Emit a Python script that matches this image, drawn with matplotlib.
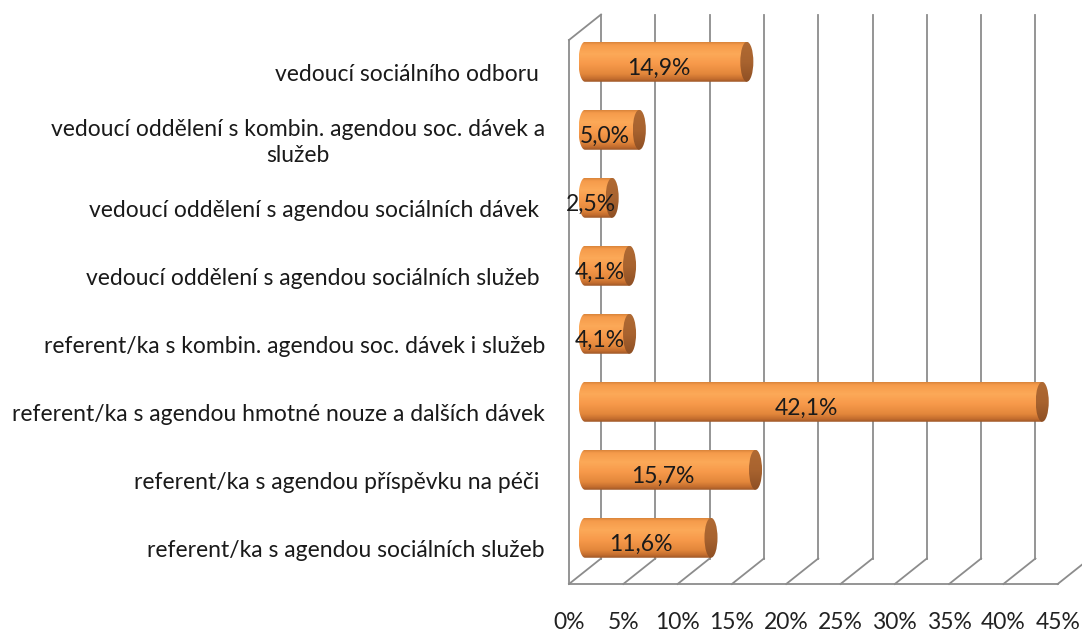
import numpy as np
import matplotlib
matplotlib.use("Agg")
import matplotlib.pyplot as plt
from matplotlib.path import Path
from matplotlib.patches import PathPatch, Ellipse
from matplotlib.colors import LinearSegmentedColormap

plt.rcParams['font.family'] = ['Lato', 'DejaVu Sans']

# Data (top to bottom as shown)
categories = [
    "vedoucí sociálního odboru ",
    "vedoucí oddělení s kombin. agendou soc. dávek a\nslužeb",
    "vedoucí oddělení s agendou sociálních dávek ",
    "vedoucí oddělení s agendou sociálních služeb ",
    "referent/ka s kombin. agendou soc. dávek i služeb",
    "referent/ka s agendou hmotné nouze a dalších dávek",
    "referent/ka s agendou příspěvku na péči ",
    "referent/ka s agendou sociálních služeb",
]
values = [14.9, 5.0, 2.5, 4.1, 4.1, 42.1, 15.7, 11.6]
ticks = [0, 5, 10, 15, 20, 25, 30, 35, 40, 45]

W, H = 1082, 632
fig = plt.figure(figsize=(W / 100, H / 100), dpi=100)
ax = fig.add_axes([569 / W, (H - 584) / H, (1057.7 - 569) / W, 544 / H])
ax.axis('off')

fs = 16.5

# 3d frame geometry (data units)
dx, dy = 2.95, 0.375
y_floor, y_top = -0.68, 7.32
grid_c = '#8C8C8C'
lw = 1.3

for t in ticks:
    # back wall
    ax.plot([t + dx, t + dx], [y_floor + dy, y_top + dy], color=grid_c, lw=lw, clip_on=False, zorder=1)
    # floor diagonals
    ax.plot([t, t + dx], [y_floor, y_floor + dy], color=grid_c, lw=lw, clip_on=False, zorder=1)
    ax.text(t, y_floor - 0.56, f"{t}%", ha='center', va='center', fontsize=fs, color='#222222')
ax.plot([0, ticks[-1]], [y_floor, y_floor], color=grid_c, lw=lw, clip_on=False, zorder=1)
ax.plot([0, 0], [y_floor, y_top], color=grid_c, lw=lw, clip_on=False, zorder=1)
ax.plot([0, dx], [y_top, y_top + dy], color=grid_c, lw=lw, clip_on=False, zorder=1)

# cylinder shading
cmap = LinearSegmentedColormap.from_list('cyl', [
    (0.0, '#D9843A'), (0.07, '#F59B4B'), (0.3, '#FCA958'), (0.55, '#F7994A'),
    (0.8, '#E3873B'), (0.92, '#C46D2E'), (1.0, '#9C5628')])
cap_cmap = LinearSegmentedColormap.from_list('cap', [
    (0.0, '#B06A33'), (0.5, '#A8632F'), (1.0, '#8E4F24')])
grad = np.linspace(0, 1, 256).reshape(-1, 1)

x0 = dx / 2
a = 0.6
bh = 0.588
n = len(values)
for k, (cat, v) in enumerate(zip(categories, values)):
    yc = n - 1 - k
    b = bh / 2
    th = np.linspace(np.pi / 2, 3 * np.pi / 2, 40)
    pts = list(zip(x0 + a * np.cos(th), yc + b * np.sin(th)))
    pts += [(x0 + v, yc - b), (x0 + v, yc + b), pts[0]]
    patch = PathPatch(Path(pts), facecolor='none', edgecolor='none')
    ax.add_patch(patch)
    im = ax.imshow(grad, cmap=cmap, aspect='auto', extent=[x0 - a, x0 + v, yc - b, yc + b],
                   origin='upper', zorder=3, interpolation='bilinear')
    im.set_clip_path(patch)
    cap = Ellipse((x0 + v, yc), 2 * a, bh, facecolor='none', edgecolor='none')
    ax.add_patch(cap)
    imc = ax.imshow(grad, cmap=cap_cmap, aspect='auto', extent=[x0 + v - a, x0 + v + a, yc - b, yc + b],
                    origin='upper', zorder=4, interpolation='bilinear')
    imc.set_clip_path(cap)
    ax.text(x0 - 0.67 + v / 2, yc - 0.09, f"{v:.1f}".replace('.', ',') + "%",
            ha='center', va='center', fontsize=fs, color='#1A1A1A', zorder=5)
    ax.text(-2.2, yc - 0.19, cat, ha='right', va='center', multialignment='center',
            fontsize=fs, color='#1A1A1A', linespacing=1.3)

ax.set_xlim(0, 45)
ax.set_ylim(y_floor, y_top)

fig.savefig('out.png', dpi=100)
